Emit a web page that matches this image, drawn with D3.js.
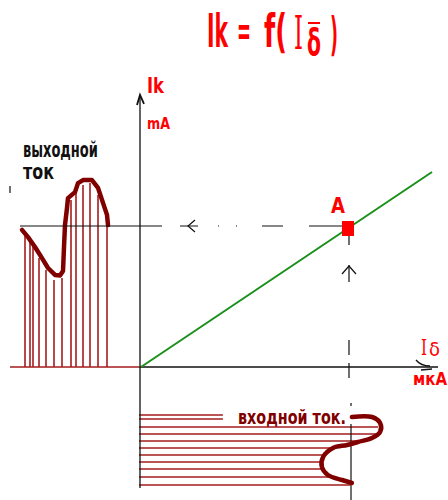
<!DOCTYPE html>
<html>
<head>
<meta charset="utf-8">
<script src="https://cdn.jsdelivr.net/npm/d3@7"></script>
<style>
  html, body { margin: 0; padding: 0; background: #fff; }
  svg { display: block; }
</style>
</head>
<body>
<svg id="chart" width="448" height="500"></svg>
<script>
// Transfer characteristic Ik = f(Iδ), in units of the two axes (0..100)
const charIb = [0, 97];
const charIk = [0, 65];

// Operating point A
const pointA = { ib: 69, ik: 46 };

// Output current waveform: time (left panel) and Ik
const outT  = [1.2, 1.8, 2.5, 3.2, 3.8, 4.5, 5.0, 5.3, 5.4, 5.5, 5.7, 5.8, 6.5, 6.8, 7.3, 8.2, 8.8, 9.3, 9.7, 9.8];
const outIk = [45.7, 43.3, 40, 36.3, 33, 30.7, 30.5, 32, 40, 47.3, 53, 56.3, 58.3, 61.3, 62.3, 62.3, 59.7, 54.7, 50.7, 47.3];

// Hatching under the output waveform
const outHatchT  = [1.5, 2.0, 2.3, 2.9, 3.6, 4.4, 5.2, 6.1, 6.6, 7.3, 8.0, 8.8, 9.7];
const outHatchIk = [44.7, 42.3, 40.3, 36.3, 32.3, 29, 29.7, 55.7, 58, 60.7, 61.3, 57.3, 49.7];

// Input current waveform: Iδ and time (bottom panel, time runs downwards)
const inIb = [70.3, 77, 79.7, 79.7, 77, 72.3, 68.7, 64, 60.7, 60.3, 62.3, 67, 70.3];
const inT  = [17, 17, 23, 32, 38, 42, 45, 48, 57, 67, 75, 80, 83];

// Hatching under the input waveform
const inHatchT  = [15, 19, 27, 34, 41, 48, 55, 62, 69, 77, 85];
const inHatchIb = [27.3, 27.3, 79, 78.3, 72.3, 63, 60.7, 60.3, 60.7, 64, 69.7];

// Axis extents
const ibMax = 99, ikMax = 90.7;

const svg = d3.select("#chart");

const x = d3.scaleLinear().domain([0, 100]).range([141, 441]);     // Iδ
const y = d3.scaleLinear().domain([0, 100]).range([367, 67]);      // Ik
const tOut = d3.scaleLinear().domain([0, 13]).range([10, 140]);    // time, left panel
const tIn = d3.scaleLinear().domain([0, 100]).range([400, 500]);   // time, bottom panel

const RED = "#ff0000", DARK = "#800000", HATCH = "#a41c1c", INK = "#111";
const SANS = "DejaVu Sans Condensed, DejaVu Sans";

// Text squeezed horizontally to a given width (narrow, tall lettering)
function fitText(parent, str, px, py, width, opts) {
  const t = parent.append("text")
    .attr("font-family", opts.family || SANS)
    .attr("font-weight", opts.weight || "normal")
    .attr("font-size", opts.size)
    .attr("fill", opts.fill)
    .text(str);
  const w = t.node().getComputedTextLength();
  t.attr("transform", `translate(${px},${py}) scale(${width / w},1)`);
  return t;
}

// ---- left panel: output current ----
svg.append("line")
  .attr("x1", tOut(0)).attr("x2", tOut(13))
  .attr("y1", y(0)).attr("y2", y(0))
  .attr("stroke", HATCH).attr("stroke-width", 1.5);

svg.append("g").selectAll("line")
  .data(outHatchT)
  .join("line")
  .attr("x1", d => tOut(d)).attr("x2", d => tOut(d))
  .attr("y1", y(0)).attr("y2", (d, i) => y(outHatchIk[i]))
  .attr("stroke", HATCH).attr("stroke-width", 1.6);

svg.append("path")
  .datum(outT.map((t, i) => [tOut(t), y(outIk[i])]))
  .attr("d", d3.line().curve(d3.curveLinear))
  .attr("fill", "none").attr("stroke", DARK)
  .attr("stroke-width", 4.5).attr("stroke-linejoin", "round").attr("stroke-linecap", "round");

// ---- bottom panel: input current ----
svg.append("g").selectAll("line")
  .data(inHatchT)
  .join("line")
  .attr("x1", x(0) - 2).attr("x2", (d, i) => x(inHatchIb[i]))
  .attr("y1", d => tIn(d)).attr("y2", d => tIn(d))
  .attr("stroke", HATCH).attr("stroke-width", 1.6);

// vertical time axis of the bottom panel
svg.append("line")
  .attr("x1", x(0) - 1).attr("x2", x(0) - 1)
  .attr("y1", y(0)).attr("y2", tIn(88))
  .attr("stroke", INK).attr("stroke-width", 1.3);

// projection of point A continuing through the bottom panel
svg.append("line")
  .attr("x1", x(pointA.ib) + 3).attr("x2", x(pointA.ib) + 3)
  .attr("y1", tIn(3)).attr("y2", tIn(100))
  .attr("stroke", INK).attr("stroke-width", 1.2);

// label with a white backing over the hatching
const inLbl = svg.append("g");
inLbl.append("rect")
  .attr("x", 225).attr("y", 406).attr("width", 127).attr("height", 18)
  .attr("fill", "#fff");
fitText(inLbl, "входной ток.", 238, 424, 108, { size: 20, weight: "bold", fill: DARK });

svg.append("path")
  .datum(inIb.map((v, i) => [x(v), tIn(inT[i])]))
  .attr("d", d3.line().curve(d3.curveCatmullRom.alpha(0.5)))
  .attr("fill", "none").attr("stroke", DARK)
  .attr("stroke-width", 4.5).attr("stroke-linejoin", "round").attr("stroke-linecap", "round");

// ---- main axes ----
svg.append("line")
  .attr("x1", x(0) - 1).attr("x2", x(0) - 1)
  .attr("y1", y(0)).attr("y2", y(ikMax))
  .attr("stroke", INK).attr("stroke-width", 1.3);
svg.append("path")
  .attr("d", `M${x(0) - 4},${y(ikMax) + 10} L${x(0) - 1},${y(ikMax)} L${x(0) + 3},${y(ikMax) + 9}`)
  .attr("fill", "none").attr("stroke", INK).attr("stroke-width", 1.8);

svg.append("line")
  .attr("x1", x(0) - 1).attr("x2", x(ibMax))
  .attr("y1", y(0)).attr("y2", y(0))
  .attr("stroke", INK).attr("stroke-width", 1.3);
svg.append("path")
  .attr("d", `M${x(ibMax) - 22},${y(0) - 7} C${x(ibMax) - 18},${y(0) - 2} ${x(ibMax) - 14},${y(0) - 1} ${x(ibMax) - 8},${y(0) - 1} M${x(ibMax) - 17},${y(0) + 3} L${x(ibMax) - 6},${y(0) + 2}`)
  .attr("fill", "none").attr("stroke", INK).attr("stroke-width", 1.3);

// ---- transfer characteristic ----
svg.append("line")
  .attr("x1", x(charIb[0])).attr("y1", y(charIk[0]))
  .attr("x2", x(charIb[1])).attr("y2", y(charIk[1]))
  .attr("stroke", "#1a8f1a").attr("stroke-width", 2);

// horizontal projection from A to the output waveform
const hy = y(pointA.ik) - 3;
svg.append("line")
  .attr("x1", tOut(1.0)).attr("x2", x(pointA.ib) - 1)
  .attr("y1", hy).attr("y2", hy)
  .attr("stroke", INK).attr("stroke-width", 1.2)
  .attr("stroke-dasharray", "142,18,18,20,1,17,1,25,21,26,40");
svg.append("path")
  .attr("d", `M195,${hy - 6} L188,${hy} L195,${hy + 6}`)
  .attr("fill", "none").attr("stroke", INK).attr("stroke-width", 1.2);
svg.append("path")
  .attr("d", `M${x(pointA.ib) - 6},${hy - 3} L${x(pointA.ib) - 1},${hy} L${x(pointA.ib) - 6},${hy + 3}`)
  .attr("fill", "none").attr("stroke", INK).attr("stroke-width", 1.2);

// vertical projection from the input axis up to A
const vx = x(pointA.ib) + 1;
svg.append("line")
  .attr("x1", vx).attr("x2", vx)
  .attr("y1", y(pointA.ik)).attr("y2", y(0) + 11)
  .attr("stroke", INK).attr("stroke-width", 1.2)
  .attr("stroke-dasharray", "16,20,17,58,15,8,20");
svg.append("path")
  .attr("d", `M${vx - 7},${y(pointA.ik) + 45} L${vx},${y(pointA.ik) + 37} L${vx + 7},${y(pointA.ik) + 45}`)
  .attr("fill", "none").attr("stroke", INK).attr("stroke-width", 1.2);

// operating point A
svg.append("rect")
  .attr("x", x(pointA.ib) - 6).attr("y", y(pointA.ik) - 8)
  .attr("width", 12).attr("height", 15)
  .attr("fill", RED);

// ---- texts ----
// title  Ik = f( Iδ )
const title = svg.append("g");
fitText(title, "Ik", 207, 47, 21, { size: 46, weight: "bold", fill: RED });
fitText(title, "=", 237, 45, 14, { size: 40, weight: "bold", fill: RED });
fitText(title, "f(", 264, 47, 23, { size: 46, weight: "bold", fill: RED });
fitText(title, "I", 294, 49, 9, { size: 46, family: "DejaVu Serif", fill: RED });
fitText(title, "δ", 307, 55, 14, { size: 38, weight: "bold", fill: RED });
fitText(title, ")", 330, 50, 8, { size: 46, weight: "bold", fill: RED });
title.append("line").attr("x1", 308).attr("x2", 320).attr("y1", 23).attr("y2", 23)
  .attr("stroke", RED).attr("stroke-width", 2);

// axis labels
const lab = svg.append("g");
fitText(lab, "Ik", 147, 93, 17, { size: 22, weight: "bold", fill: RED });
fitText(lab, "mA", 147, 129, 23, { size: 15, weight: "bold", fill: RED });
fitText(lab, "A", 331, 213, 14, { size: 21, weight: "bold", fill: RED });
fitText(lab, "I", 421, 355, 6, { size: 23, family: "DejaVu Serif", fill: RED });
fitText(lab, "δ", 429, 356, 11, { size: 20, fill: RED });
fitText(lab, "мкА", 413, 385, 34, { size: 18, weight: "bold", fill: RED });

// output waveform caption
fitText(svg, "выходной", 23, 157, 75, { size: 21, weight: "bold", fill: INK });
fitText(svg, "ток", 23, 179, 31, { size: 21, weight: "bold", fill: INK });
svg.append("line").attr("x1", 10).attr("x2", 10).attr("y1", 186).attr("y2", 193)
  .attr("stroke", INK).attr("stroke-width", 1.2);
</script>
</body>
</html>
